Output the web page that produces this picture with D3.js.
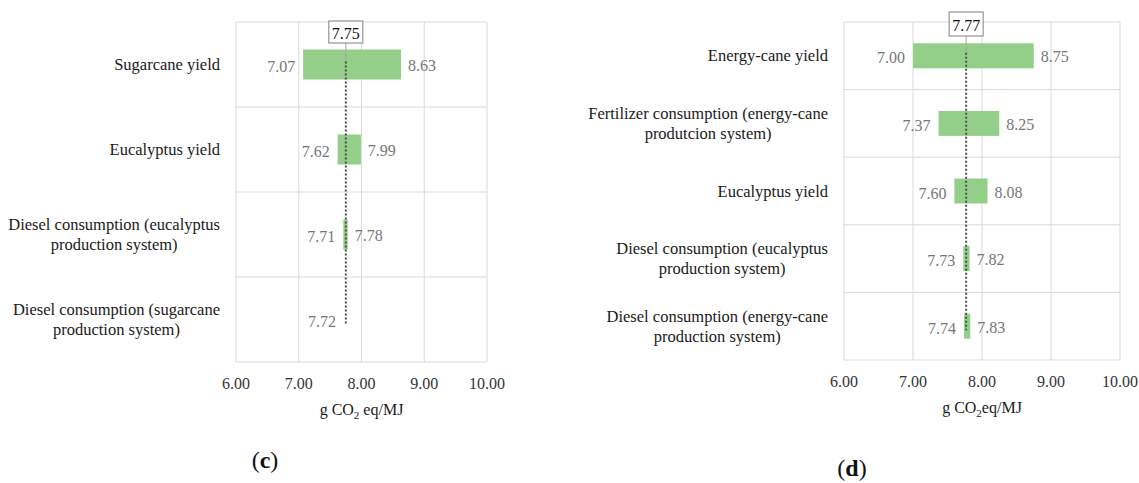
<!DOCTYPE html>
<html>
<head>
<meta charset="utf-8">
<script src="https://cdn.jsdelivr.net/npm/d3@7"></script>
<style>
  body { margin: 0; background: #fff; }
  svg text { font-family: "Liberation Serif", "DejaVu Serif", serif; }
</style>
</head>
<body>
<div id="plot"></div>
<script>
var width = 1139;
var height = 483;

// panel (c)
var c_categories = ['Sugarcane yield', 'Eucalyptus yield',
    'Diesel consumption (eucalyptus|production system)',
    'Diesel consumption (sugarcane|production system)'];
var c_low = [7.07, 7.62, 7.71, 7.72];
var c_high = [8.63, 7.99, 7.78, null];
var c_base = 7.75;

// panel (d)
var d_categories = ['Energy-cane yield',
    'Fertilizer consumption (energy-cane|produtcion system)',
    'Eucalyptus yield',
    'Diesel consumption (eucalyptus|production system)',
    'Diesel consumption (energy-cane|production system)'];
var d_low = [7.00, 7.37, 7.60, 7.73, 7.74];
var d_high = [8.75, 8.25, 8.08, 7.82, 7.83];
var d_base = 7.77;

var x_ticks = [6, 7, 8, 9, 10];
var x_domain = [6, 10];

var canvas = d3.select('#plot')
    .append('svg')
    .attr('width', width)
    .attr('height', height);

function tornado(opts) {
    var x_scale = d3.scaleLinear().domain(x_domain).range([opts.left, opts.right]);
    var y_scale = d3.scaleBand().domain(opts.categories).range([opts.top, opts.bottom]);
    var g = canvas.append('g');
    var data = opts.categories.map(function(c, i) {
        return { cat: c, low: opts.low[i], high: opts.high[i] };
    });

    // grid
    g.selectAll('line.vgrid')
        .data(x_ticks)
        .enter()
        .append('line')
        .attr('x1', function(d) { return x_scale(d); })
        .attr('x2', function(d) { return x_scale(d); })
        .attr('y1', opts.top)
        .attr('y2', opts.bottom)
        .style('stroke', '#d9d9d9');
    var hlines = opts.categories.map(function(c) { return y_scale(c); }).concat([opts.bottom]);
    g.selectAll('line.hgrid')
        .data(hlines)
        .enter()
        .append('line')
        .attr('x1', opts.left)
        .attr('x2', opts.right)
        .attr('y1', function(d) { return d; })
        .attr('y2', function(d) { return d; })
        .style('stroke', '#d9d9d9');

    // bars
    var bw = y_scale.bandwidth();
    g.selectAll('rect.bar')
        .data(data.filter(function(d) { return d.high !== null; }))
        .enter()
        .append('rect')
        .attr('x', function(d) { return x_scale(d.low); })
        .attr('width', function(d) { return x_scale(d.high) - x_scale(d.low); })
        .attr('y', function(d) { return y_scale(d.cat) + (bw - opts.barH) / 2; })
        .attr('height', opts.barH)
        .style('fill', '#93cf88');

    // value labels
    g.selectAll('text.low')
        .data(data)
        .enter()
        .append('text')
        .attr('x', function(d) { return x_scale(d.low) - 8; })
        .attr('y', function(d) { return y_scale(d.cat) + bw / 2 + 2; })
        .attr('text-anchor', 'end')
        .attr('dominant-baseline', 'central')
        .style('font-size', '16px')
        .style('fill', '#767676')
        .text(function(d) { return d.low.toFixed(2); });
    g.selectAll('text.high')
        .data(data.filter(function(d) { return d.high !== null; }))
        .enter()
        .append('text')
        .attr('x', function(d) { return x_scale(d.high) + 7; })
        .attr('y', function(d) { return y_scale(d.cat) + bw / 2 + 1; })
        .attr('dominant-baseline', 'central')
        .style('font-size', '16px')
        .style('fill', '#767676')
        .text(function(d) { return d.high.toFixed(2); });

    // base value line + box
    var bx = x_scale(opts.base);
    var first = y_scale(opts.categories[0]) + bw / 2;
    var last = y_scale(opts.categories[opts.categories.length - 1]) + bw / 2;
    g.append('line')
        .attr('x1', bx).attr('x2', bx)
        .attr('y1', opts.boxY + opts.boxH)
        .attr('y2', first)
        .style('stroke', '#a6a6a6');
    g.append('line')
        .attr('x1', bx).attr('x2', bx)
        .attr('y1', first - 3)
        .attr('y2', last + 4)
        .style('stroke', '#4d4d4d')
        .style('stroke-width', 2)
        .style('stroke-dasharray', '2,2');
    g.append('rect')
        .attr('x', bx - 17)
        .attr('y', opts.boxY)
        .attr('width', 34)
        .attr('height', opts.boxH)
        .style('fill', '#fff')
        .style('stroke', '#7f7f7f');
    g.append('text')
        .attr('x', bx)
        .attr('y', opts.boxY + opts.boxH / 2 + 1)
        .attr('text-anchor', 'middle')
        .attr('dominant-baseline', 'central')
        .style('font-size', '16px')
        .style('fill', '#111')
        .text(opts.base.toFixed(2));

    // category labels (centred block, right aligned to plot)
    opts.categories.forEach(function(c) {
        var lines = c.split('|');
        var cy = y_scale(c) + bw / 2;
        var t = g.append('text')
            .attr('text-anchor', 'middle')
            .style('font-size', '16.5px')
            .style('fill', '#1a1a1a');
        lines.forEach(function(l, i) {
            t.append('tspan')
                .attr('y', cy + (i - (lines.length - 1) / 2) * 20)
                .attr('dominant-baseline', 'central')
                .text(l);
        });
        var maxw = d3.max(t.selectAll('tspan').nodes(), function(n) { return n.getComputedTextLength(); });
        t.selectAll('tspan').attr('x', opts.left - 16 - maxw / 2);
    });

    // x axis tick labels
    g.selectAll('text.tick')
        .data(x_ticks)
        .enter()
        .append('text')
        .attr('x', function(d) { return x_scale(d); })
        .attr('y', opts.bottom + 21)
        .attr('text-anchor', 'middle')
        .attr('dominant-baseline', 'central')
        .style('font-size', '16px')
        .style('fill', '#333')
        .text(function(d) { return d.toFixed(2); });

    // axis title
    var title = g.append('text')
        .attr('x', (opts.left + opts.right) / 2)
        .attr('y', opts.bottom + 53)
        .attr('text-anchor', 'middle')
        .style('font-size', '16px')
        .style('fill', '#1a1a1a');
    title.append('tspan').text('g CO');
    title.append('tspan').attr('dy', 4).style('font-size', '11px').text('2');
    title.append('tspan').attr('dy', -4).text(opts.unit);

    // panel letter
    var letter = canvas.append('text')
        .attr('x', opts.letterX)
        .attr('y', opts.letterY)
        .attr('text-anchor', 'middle')
        .attr('dominant-baseline', 'central')
        .style('font-size', '24px')
        .style('fill', '#111');
    letter.append('tspan').text('(');
    letter.append('tspan').style('font-weight', 'bold').text(opts.letter);
    letter.append('tspan').text(')');
}

tornado({
    categories: c_categories, low: c_low, high: c_high, base: c_base,
    left: 236, right: 487, top: 22, bottom: 362, barH: 30,
    boxY: 21, boxH: 22, unit: ' eq/MJ',
    letter: 'c', letterX: 265, letterY: 460
});

tornado({
    categories: d_categories, low: d_low, high: d_high, base: d_base,
    left: 844, right: 1120, top: 22, bottom: 360, barH: 25,
    boxY: 12, boxH: 24, unit: 'eq/MJ',
    letter: 'd', letterX: 852, letterY: 468
});
</script>
</body>
</html>
